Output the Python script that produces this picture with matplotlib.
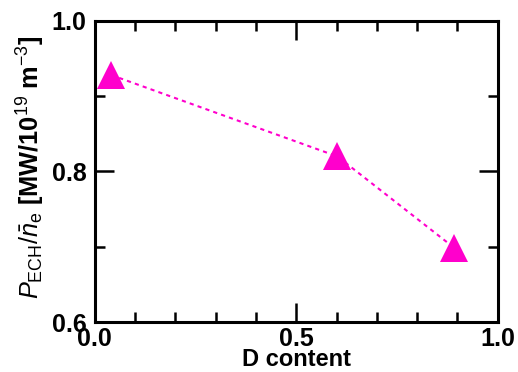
import matplotlib
matplotlib.use("Agg")
import matplotlib.pyplot as plt
from matplotlib.ticker import MultipleLocator

plt.rcParams['font.family'] = ['Liberation Sans', 'DejaVu Sans']
plt.rcParams['mathtext.fontset'] = 'custom'
plt.rcParams['mathtext.rm'] = 'Liberation Sans'
plt.rcParams['mathtext.it'] = 'Liberation Sans:italic'
plt.rcParams['mathtext.bf'] = 'Liberation Sans:bold'

d_content = [0.041, 0.602, 0.891]
p_per_n = [0.928, 0.820, 0.699]
x_ticks = [0.0, 0.5, 1.0]
x_ticklabels = ['0.0', '0.5', '1.0']
y_ticks = [0.6, 0.8, 1.0]
y_ticklabels = ['0.6', '0.8', '1.0']

fig = plt.figure(figsize=(5.18, 3.72), dpi=100)
ax = fig.add_axes([0.183, 0.134, 0.778, 0.810])

ax.plot(d_content, p_per_n, linestyle=(0, (2, 2)), color='#ff00cc', lw=1.5,
        marker='^', markersize=19.5, markeredgewidth=0, markerfacecolor='#ff00cc')

ax.set_xlim(0, 1.0)
ax.set_ylim(0.6, 1.0)
ax.set_xticks(x_ticks)
ax.set_xticklabels(x_ticklabels, fontweight='bold')
ax.set_yticks(y_ticks)
ax.set_yticklabels(y_ticklabels, fontweight='bold')
ax.xaxis.set_minor_locator(MultipleLocator(0.1))
ax.yaxis.set_minor_locator(MultipleLocator(0.1))

for s in ax.spines.values():
    s.set_linewidth(2.2)

ax.tick_params(which='both', direction='in', top=True, right=True, width=1.8)
ax.tick_params(which='major', length=14, labelsize=18)
ax.tick_params(which='minor', length=7)
ax.tick_params(axis='y', which='major', pad=6)
ax.tick_params(axis='x', which='major', pad=3.5)

ax.set_xlabel('D content', fontsize=17, fontweight='bold', labelpad=-2)
ax.set_ylabel(r'$P_{\rm ECH}/\bar{n}_{\rm e}$ [MW/10$^{19}$ m$^{-3}$]',
              fontsize=18.3, fontweight='bold')
ax.yaxis.set_label_coords(-0.118, 0.515)

fig.savefig('out.png', dpi=100)
